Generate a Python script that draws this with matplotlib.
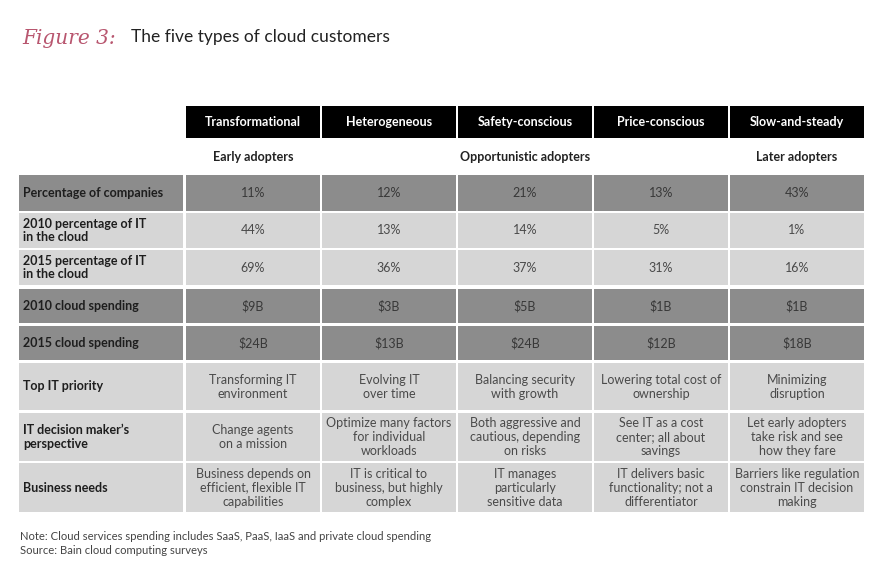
import matplotlib.pyplot as plt
from matplotlib.patches import Rectangle

plt.rcParams['font.family'] = ['Lato', 'DejaVu Sans']

# data
segments = ['Transformational', 'Heterogeneous', 'Safety-conscious', 'Price-conscious', 'Slow-and-steady']
groups = [(0, 'Early adopters'), (2, 'Opportunistic adopters'), (4, 'Later adopters')]
row_labels = ['Percentage of companies',
              '2010 percentage of IT\nin the cloud',
              '2015 percentage of IT\nin the cloud',
              '2010 cloud spending',
              '2015 cloud spending',
              'Top IT priority',
              'IT decision maker\u2019s\nperspective',
              'Business needs']
pct_companies = ['11%', '12%', '21%', '13%', '43%']
pct_it_2010 = ['44%', '13%', '14%', '5%', '1%']
pct_it_2015 = ['69%', '36%', '37%', '31%', '16%']
spend_2010 = ['$9B', '$3B', '$5B', '$1B', '$1B']
spend_2015 = ['$24B', '$13B', '$24B', '$12B', '$18B']
priority = ['Transforming IT\nenvironment', 'Evolving IT\nover time',
            'Balancing security\nwith growth', 'Lowering total cost of\nownership',
            'Minimizing\ndisruption']
perspective = ['Change agents\non a mission', 'Optimize many factors\nfor individual\nworkloads',
               'Both aggressive and\ncautious, depending\non risks',
               'See IT as a cost\ncenter; all about\nsavings',
               'Let early adopters\ntake risk and see\nhow they fare']
needs = ['Business depends on\nefficient, flexible IT\ncapabilities',
         'IT is critical to\nbusiness, but highly\ncomplex',
         'IT manages\nparticularly\nsensitive data',
         'IT delivers basic\nfunctionality; not a\ndifferentiator',
         'Barriers like regulation\nconstrain IT decision\nmaking']
rows = [pct_companies, pct_it_2010, pct_it_2015, spend_2010, spend_2015, priority, perspective, needs]
dark_rows = [0, 3, 4]

# layout (pixel coordinates)
col_left = [186, 322, 458, 594, 730]
col_w = 134
label_left, label_w = 19, 164
row_top = [175, 213, 250, 289, 326, 363, 413, 463]
row_h = [36, 35, 35, 34, 34, 47, 48, 49]

fig = plt.figure(figsize=(8.9, 5.68), dpi=100)
ax = fig.add_axes([0, 0, 1, 1])
ax.set_xlim(0, 890)
ax.set_ylim(568, 0)
ax.axis('off')

# title
ax.text(22, 38, 'Figure 3:', color='#b8566f', fontsize=14.5, family='DejaVu Serif',
        style='italic', va='center', ha='left')
ax.text(131, 37, 'The five types of cloud customers', color='#222222', fontsize=12.5,
        va='center', ha='left')

# header
for i, name in enumerate(segments):
    ax.add_patch(Rectangle((col_left[i], 106), col_w, 32, facecolor='black', edgecolor='none'))
    ax.text(col_left[i] + col_w / 2, 122, name, color='white', fontsize=9, fontweight='bold',
            ha='center', va='center')

for i, g in groups:
    ax.text(col_left[i] + col_w / 2, 157, g, color='#222222', fontsize=9, fontweight='bold',
            ha='center', va='center')

# body
for r, vals in enumerate(rows):
    dark = r in dark_rows
    fc = '#8c8c8c' if dark else '#d6d6d6'
    y0, h = row_top[r], row_h[r]
    yc = y0 + h / 2
    ax.add_patch(Rectangle((label_left, y0), label_w, h, facecolor=fc, edgecolor='none'))
    ax.text(label_left + 4, yc, row_labels[r], color='#1e1e1e', fontsize=9, fontweight='bold',
            ha='left', va='center', linespacing=1.15)
    for i, v in enumerate(vals):
        ax.add_patch(Rectangle((col_left[i], y0), col_w, h, facecolor=fc, edgecolor='none'))
        ax.text(col_left[i] + col_w / 2, yc, v, color='#383838' if dark else '#4a4a4a',
                fontsize=9, ha='center', va='center', linespacing=1.2)

# notes
ax.text(20, 537, 'Note: Cloud services spending includes SaaS, PaaS, IaaS and private cloud spending',
        color='#444444', fontsize=8.1, ha='left', va='center')
ax.text(20, 551, 'Source: Bain cloud computing surveys', color='#444444', fontsize=8.1,
        ha='left', va='center')

fig.savefig('out.png', dpi=100)
